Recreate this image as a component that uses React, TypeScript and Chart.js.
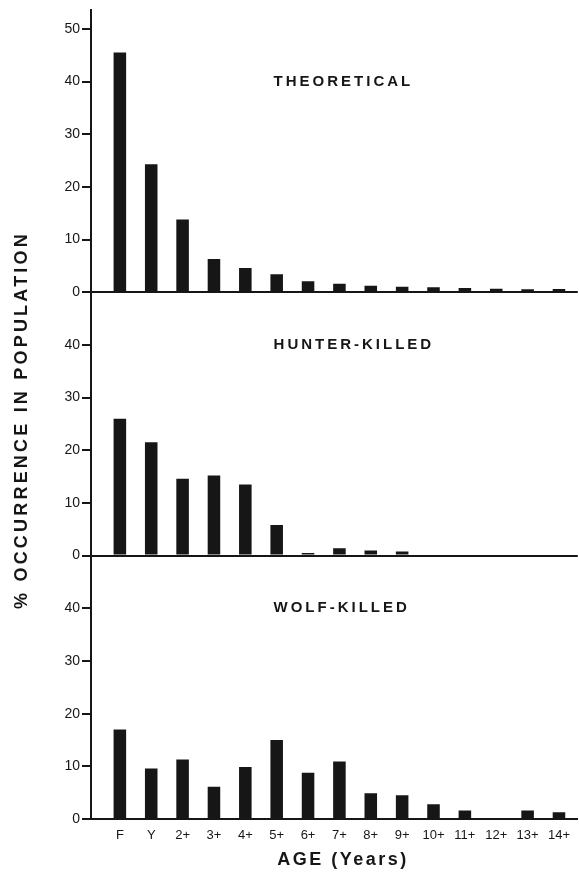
import React, { useEffect, useRef } from "react";
import { Chart, registerables } from "chart.js";

Chart.register(...registerables);

// Age classes along the horizontal axis
const AGE_LABELS = ["F", "Y", "2+", "3+", "4+", "5+", "6+", "7+", "8+", "9+", "10+", "11+", "12+", "13+", "14+"];

// % occurrence in population for each age class
const THEORETICAL = [45.5, 24.3, 13.8, 6.3, 4.6, 3.4, 2.1, 1.6, 1.25, 1.05, 0.95, 0.8, 0.65, 0.55, 0.6];
const HUNTER_KILLED = [26.0, 21.5, 14.6, 15.2, 13.5, 5.8, 0.5, 1.4, 0.95, 0.8, 0, 0, 0, 0, 0];
const WOLF_KILLED = [17.0, 9.6, 11.3, 6.1, 9.85, 15.0, 8.8, 10.9, 4.9, 4.5, 2.8, 1.6, 0, 1.6, 1.3];

const PANEL_TITLES = ["THEORETICAL", "HUNTER-KILLED", "WOLF-KILLED"];
const Y_TICKS_TOP = [0, 10, 20, 30, 40, 50];
const Y_TICKS_LOWER = [0, 10, 20, 30, 40];

const Y_TITLE = "% OCCURRENCE IN POPULATION";
const X_TITLE = "AGE (Years)";

const INK = "#161616";
const FONT = "'Liberation Sans', Arial, sans-serif";
const PANEL_AXES = ["yTop", "yMid", "yBot"];

// Panel caption placement, in data units
const CAPTION_X = 4.9;
const CAPTION_Y = 40;

const panelTextPlugin = {
  id: "panelText",
  afterDatasetsDraw(chart: any) {
    const ctx = chart.ctx as CanvasRenderingContext2D & { letterSpacing?: string };
    const xs = chart.scales.x;
    ctx.save();
    ctx.fillStyle = INK;
    ctx.textBaseline = "middle";

    ctx.font = `bold 15px ${FONT}`;
    ctx.letterSpacing = "3px";
    ctx.textAlign = "left";
    PANEL_AXES.forEach((id, i) => {
      const ys = chart.scales[id];
      ctx.fillText(PANEL_TITLES[i], xs.getPixelForValue(CAPTION_X), ys.getPixelForValue(CAPTION_Y));
    });

    ctx.font = `bold 18px ${FONT}`;
    ctx.letterSpacing = "2.5px";
    ctx.textAlign = "center";
    ctx.fillText(X_TITLE, 343, 860);

    ctx.translate(22, 420);
    ctx.rotate(-Math.PI / 2);
    ctx.letterSpacing = "3.2px";
    ctx.fillText(Y_TITLE, 0, 0);
    ctx.restore();
  },
};

function panelAxis(max: number, ticks: number[], order: number) {
  return {
    type: "linear" as const,
    position: "left" as const,
    stack: "panels",
    stackWeight: max,
    weight: order,
    min: 0,
    max,
    afterBuildTicks: (s: any) => {
      s.ticks = ticks.map((v) => ({ value: v }));
    },
    afterFit: (s: any) => {
      s.width = 91;
    },
    ticks: {
      color: INK,
      padding: 2,
      font: { family: FONT, size: 14 },
    },
    grid: {
      color: (c: any) => (c.tick && c.tick.value === 0 ? INK : "rgba(0,0,0,0)"),
      lineWidth: 2,
      tickColor: INK,
      tickLength: 9,
      tickWidth: 2,
    },
    border: { color: INK, width: 2 },
  };
}

export default function App() {
  const canvasRef = useRef<HTMLCanvasElement | null>(null);

  useEffect(() => {
    if (!canvasRef.current) return;
    const bar = (label: string, values: number[], yAxisID: string) => ({
      label,
      data: values.map((v, i) => ({ x: i, y: v })),
      yAxisID,
      xAxisID: "x",
      backgroundColor: INK,
      borderWidth: 0,
      grouped: false,
      categoryPercentage: 1,
      barPercentage: 0.4,
    });

    const chart = new Chart(canvasRef.current, {
      type: "bar",
      data: {
        datasets: [
          bar(PANEL_TITLES[0], THEORETICAL, "yTop"),
          bar(PANEL_TITLES[1], HUNTER_KILLED, "yMid"),
          bar(PANEL_TITLES[2], WOLF_KILLED, "yBot"),
        ],
      },
      options: {
        animation: false,
        responsive: true,
        maintainAspectRatio: false,
        layout: { padding: { top: 10, left: 0, right: 0, bottom: 0 } },
        plugins: {
          legend: { display: false },
          tooltip: { enabled: false },
        },
        scales: {
          x: {
            type: "linear",
            offset: false,
            min: -0.92,
            max: 14.6,
            afterBuildTicks: (s: any) => {
              s.ticks = AGE_LABELS.map((_, i) => ({ value: i }));
            },
            afterFit: (s: any) => {
              s.height = 53;
            },
            ticks: {
              autoSkip: false,
              maxRotation: 0,
              color: INK,
              padding: 9,
              font: { family: FONT, size: 13 },
              callback: (v: any) => AGE_LABELS[Number(v)] ?? "",
            },
            grid: { display: false, drawTicks: false, offset: false },
            border: { color: INK, width: 2 },
          },
          yTop: panelAxis(53.5, Y_TICKS_TOP, 3),
          yMid: panelAxis(50, Y_TICKS_LOWER, 2),
          yBot: panelAxis(50, Y_TICKS_LOWER, 1),
        },
      } as any,
      plugins: [panelTextPlugin],
    });
    return () => chart.destroy();
  }, []);

  return (
    <div
      style={{
        position: "absolute",
        left: 0,
        top: 0,
        width: 579,
        height: 872,
        background: "#ffffff",
      }}
    >
      <canvas ref={canvasRef} />
    </div>
  );
}
